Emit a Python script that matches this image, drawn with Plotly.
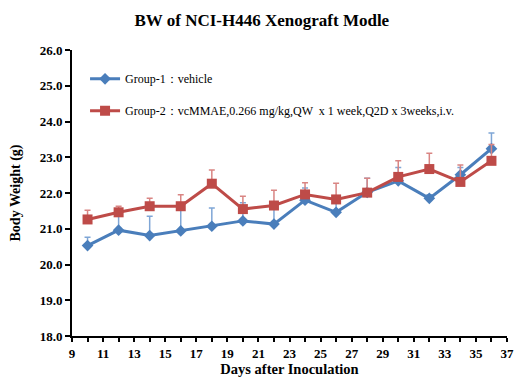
import plotly.graph_objects as go

days = [10, 12, 14, 16, 18, 20, 22, 24, 26, 28, 30, 32, 34, 36]
g1_mean = [20.53, 20.96, 20.81, 20.94, 21.07, 21.22, 21.13, 21.80, 21.46, 22.02, 22.34, 21.85, 22.51, 23.24]
g1_err = [0.23, 0.45, 0.54, 0.70, 0.51, 0.51, 0.45, 0.34, 0.35, 0.39, 0.37, 0.10, 0.20, 0.44]
g2_mean = [21.26, 21.46, 21.63, 21.63, 22.26, 21.55, 21.65, 21.96, 21.82, 22.01, 22.45, 22.67, 22.31, 22.90]
g2_err = [0.26, 0.17, 0.22, 0.32, 0.38, 0.36, 0.43, 0.33, 0.45, 0.40, 0.45, 0.44, 0.47, 0.46]

g1_name = "Group-1：vehicle"
g2_name = "Group-2：vcMMAE,0.266 mg/kg,QW  x 1 week,Q2D x 3weeks,i.v."
title = "BW of NCI-H446 Xenograft Modle"

blue = "#4A7EBB"
red = "#BE4B48"
serif = "Liberation Serif, Times New Roman, serif"

fig = go.Figure()
fig.add_trace(go.Scatter(
    x=days, y=g1_mean, name=g1_name, legendgroup="g1",
    mode="lines+markers",
    line=dict(color=blue, width=3),
    marker=dict(symbol="diamond", size=9, color=blue),
    error_y=dict(type="data", symmetric=False, array=g1_err, arrayminus=[0] * len(g1_err),
                 color="#7FA6D6", thickness=1.5, width=3),
))
fig.add_trace(go.Scatter(
    x=days, y=g2_mean, name=g2_name, legendgroup="g2",
    mode="lines+markers",
    line=dict(color=red, width=3),
    marker=dict(symbol="square", size=10, color=red),
    error_y=dict(type="data", symmetric=False, array=g2_err, arrayminus=[0] * len(g2_err),
                 color="#D98583", thickness=1.5, width=3),
))

# page body has an 8px default margin, so the figure is made 8px smaller
fig.update_layout(
    width=517, height=377,
    margin=dict(l=64, r=18, t=42, b=49, autoexpand=False),
    paper_bgcolor="white", plot_bgcolor="white",
    font=dict(family=serif, color="black", size=12),
    title=dict(text="<b>" + title + "</b>", x=0.491, xanchor="center", y=0.968, yanchor="middle",
               font=dict(size=17, family=serif)),
    showlegend=True,
    legend=dict(x=0.03, y=0.95, xanchor="left", yanchor="top", bgcolor="rgba(0,0,0,0)",
                font=dict(size=12, family=serif), tracegroupgap=13, itemwidth=30),
    xaxis=dict(range=[9, 37], tick0=9, dtick=2, showgrid=False, zeroline=False, automargin=False,
               showline=True, linecolor="black", linewidth=2,
               ticks="outside", ticklen=4, tickwidth=1.5, tickcolor="black",
               minor=dict(dtick=1, ticks="outside", ticklen=4, tickwidth=1.5, tickcolor="black"),
               tickfont=dict(size=13, family=serif, weight="bold"),
               title=dict(text="<b>Days after Inoculation</b>", standoff=2, font=dict(size=14.5, family=serif))),
    yaxis=dict(range=[18, 26], dtick=1, tickformat=".1f", showgrid=False, zeroline=False, automargin=False,
               showline=True, linecolor="black", linewidth=2,
               ticks="outside", ticklen=5, tickwidth=1.5, tickcolor="black",
               tickfont=dict(size=13, family=serif, weight="bold"),
               title=dict(text="<b>Body Weight (g)</b>", standoff=20, font=dict(size=14, family=serif))),
)

fig.write_html("out.html")
